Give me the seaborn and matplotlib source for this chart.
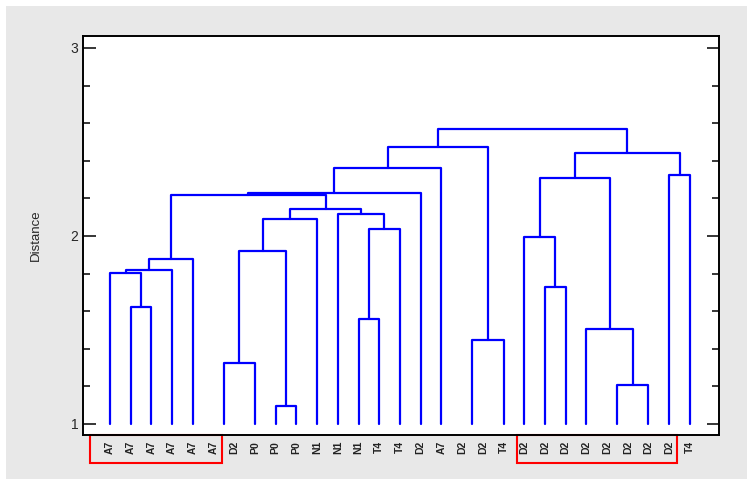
import numpy as np
import pandas as pd
import matplotlib
matplotlib.use("Agg")
import matplotlib.pyplot as plt
import matplotlib.transforms as mtransforms
from matplotlib.patches import Rectangle
from matplotlib.ticker import MultipleLocator
import seaborn as sns

# --- Leaf labels (in dendrogram order) ---
labels = ["A7", "A7", "A7", "A7", "A7", "A7", "D2", "P0", "P0", "P0",
          "N1", "N1", "N1", "T4", "T4", "D2", "A7", "D2", "D2", "T4",
          "D2", "D2", "D2", "D2", "D2", "D2", "D2", "D2", "T4"]

# --- Merges (scipy-like: ids < n are leaves, n+i is merge i) ---
merge_left = [5, 17, 24, 1, 0, 33, 34, 29, 8, 36, 38, 12, 40, 11,
              39, 35, 44, 45, 30, 46, 21, 20, 31, 23, 50, 27, 53, 48]
merge_right = [6, 18, 25, 2, 32, 3, 4, 7, 9, 37, 10, 13, 14, 41,
               42, 43, 15, 16, 19, 47, 22, 49, 26, 51, 52, 28, 54, 55]
merge_height = [0.99, 0.99, 0.99, 1.622, 1.802, 1.819, 1.876, 1.326, 1.094, 1.920,
                2.090, 1.559, 2.037, 2.115, 2.145, 2.218, 2.227, 2.360, 1.445, 2.471,
                1.730, 1.993, 1.209, 1.505, 2.307, 2.324, 2.441, 2.567]

baseline = 1.0  # leaves are drawn from distance 1

# --- Build the U-shaped links ---
n = len(labels)
node_x = [float(i) for i in range(n)]
node_h = [baseline] * n
rows = []
for i, (a, b, h) in enumerate(zip(merge_left, merge_right, merge_height)):
    xa, xb = node_x[a], node_x[b]
    ha, hb = node_h[a], node_h[b]
    if h > baseline:
        for px, py in [(xa, ha), (xa, h), (xb, h), (xb, hb)]:
            rows.append({"link": i, "x": px, "y": py})
    node_x.append((xa + xb) / 2)
    node_h.append(max(h, baseline))
links = pd.DataFrame(rows)

# --- Figure ---
sns.set_style("ticks")
plt.rcParams["font.family"] = ["Liberation Sans", "DejaVu Sans"]

fig = plt.figure(figsize=(7.52, 4.86), dpi=100)
fig.patch.set_facecolor("white")
fig.patches.append(Rectangle((0.008, 0.0144), 0.985, 0.973, transform=fig.transFigure,
                             facecolor="#e8e8e8", edgecolor="none", zorder=-10))

ax = fig.add_axes([0.110, 0.1056, 0.8465, 0.8204])
ax.set_facecolor("white")

sns.lineplot(data=links, x="x", y="y", units="link", estimator=None, sort=False,
             color="#0000ff", linewidth=1.6, ax=ax)

ax.set_xlim(-1.32, 29.42)
ax.set_ylim(0.943, 3.064)

ax.set_xticks(range(n))
ax.set_xticklabels(labels, rotation=90, fontsize=7.5, fontweight="bold", color="#222222")
ax.tick_params(axis="x", length=0, pad=4.5)

ax.yaxis.set_major_locator(MultipleLocator(1))
ax.yaxis.set_minor_locator(MultipleLocator(0.2))
ax.tick_params(axis="y", which="both", direction="in", left=True, right=True,
               color="black", width=1.1, labelsize=10, pad=3)
ax.tick_params(axis="y", which="major", length=9)
ax.tick_params(axis="y", which="minor", length=5)

for s in ax.spines.values():
    s.set_color("black")
    s.set_linewidth(1.4)

ax.set_xlabel("")
ax.set_ylabel("Distance", fontsize=9.5)
ax.yaxis.set_label_coords(-0.064, 0.5)

# --- Red highlight boxes around label groups ---
trans = mtransforms.blended_transform_factory(ax.transData, ax.transAxes)
for x0, x1 in [(-0.95, 5.4), (19.65, 27.4)]:
    ax.add_patch(Rectangle((x0, -0.0702), x1 - x0, 0.0702, transform=trans,
                           fill=False, edgecolor="#ff0000", linewidth=1.5, clip_on=False))

plt.savefig("out.png", dpi=100)
